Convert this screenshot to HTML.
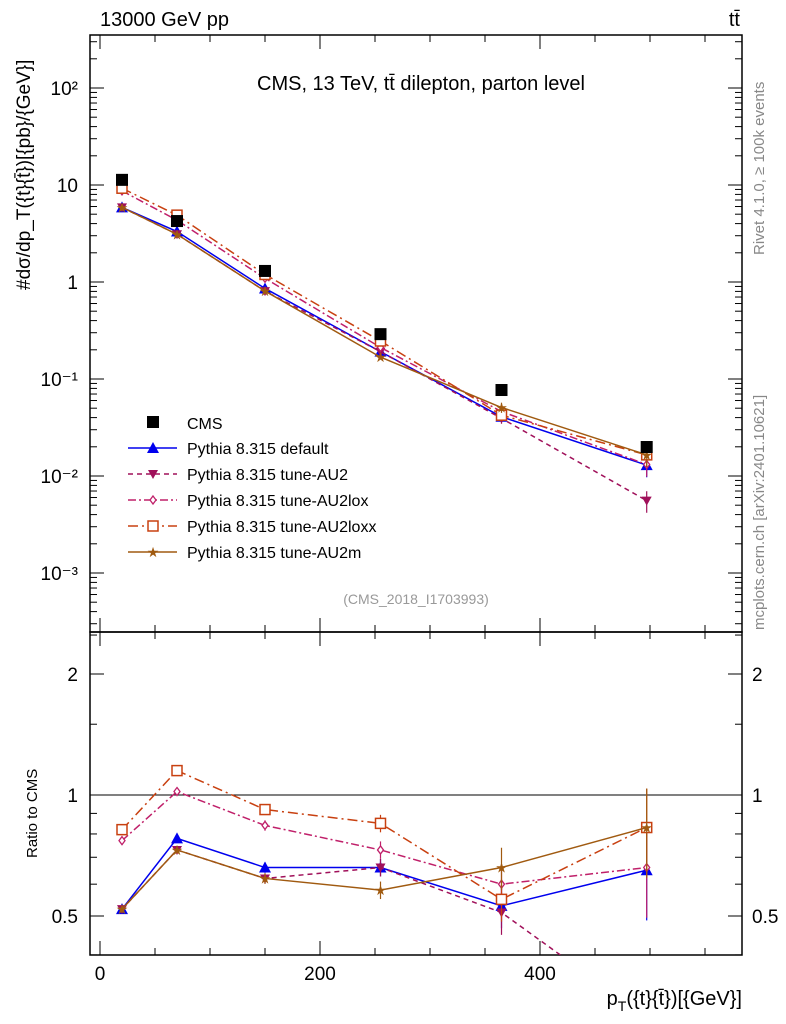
<!DOCTYPE html>
<html><head><meta charset="utf-8"><style>
body{margin:0;background:#fff}
svg{display:block;font-family:"Liberation Sans",sans-serif}
</style></head><body>
<svg id="c" width="786" height="1024" viewBox="0 0 786 1024"></svg>
<script>
const xVals=[20,70,150,255,365,497];
const cmsVals=[11.3,4.25,1.30,0.29,0.077,0.0199];
const cmsErr=[0.06,0.06,0.06,0.07,0.08,0.10];
const seriesNames=["Pythia 8.315 default","Pythia 8.315 tune-AU2","Pythia 8.315 tune-AU2lox","Pythia 8.315 tune-AU2loxx","Pythia 8.315 tune-AU2m"];
const ratioDefault=[0.52,0.78,0.66,0.66,0.53,0.65];
const ratioAU2=[0.52,0.73,0.62,0.66,0.51,0.28];
const ratioAU2lox=[0.77,1.02,0.84,0.73,0.60,0.66];
const ratioAU2loxx=[0.82,1.15,0.92,0.85,0.55,0.83];
const ratioAU2m=[0.52,0.73,0.62,0.58,0.66,0.83];
const relErr=[0.02,0.02,0.03,0.05,0.12,0.25];
const xTicks=[0,200,400];
const logTickLabels=["10⁻³","10⁻²","10⁻¹","1","10","10²"];
const ratioTicks=[0.5,1,2];

const svg=document.getElementById('c');const NS='http://www.w3.org/2000/svg';
function mk(t,a,p){const e=document.createElementNS(NS,t);for(const k in a)e.setAttribute(k,a[k]);(p||svg).appendChild(e);return e;}
const L=90,R=742,T=35,B=632,RT=632,RB=955;
const xs=v=>100+v*1.1;
const ys=v=>282-Math.log10(v)*97;
const rs=v=>795-Math.log2(v)*121;
let f=mk('rect',{x:L,y:T,width:R-L,height:B-T,fill:'none',stroke:'#000','stroke-width':1.5});

f=mk('rect',{x:L,y:RT,width:R-L,height:RB-RT,fill:'none',stroke:'#000','stroke-width':1.5});

for(let v=0;v<=580;v+=50){const maj=v%200==0;const l=maj?14:7;const x=xs(v);
 mk('line',{x1:x,y1:B,x2:x,y2:B-l,stroke:'#000'});mk('line',{x1:x,y1:T,x2:x,y2:T+l,stroke:'#000'});
 mk('line',{x1:x,y1:RB,x2:x,y2:RB-l,stroke:'#000'});mk('line',{x1:x,y1:RT,x2:x,y2:RT+l,stroke:'#000'});}
xTicks.forEach(v=>{const t=mk('text',{x:xs(v),y:980,'font-size':19,'text-anchor':'middle'});t.textContent=v;
 });
for(let d=-4;d<=2;d++)for(let m=1;m<10;m++){const v=m*Math.pow(10,d);const y=ys(v);if(y<T||y>B)continue;const l=m==1?14:7;
 mk('line',{x1:L,y1:y,x2:L+l,y2:y,stroke:'#000'});mk('line',{x1:R,y1:y,x2:R-l,y2:y,stroke:'#000'});}
logTickLabels.forEach((s,i)=>{const t=mk('text',{x:78,y:ys(Math.pow(10,i-3))+7,'font-size':19,'text-anchor':'end'});t.textContent=s;
 });
[0.4,0.5,0.6,0.7,0.8,0.9,1,1.5,2,2.5].forEach(v=>{const y=rs(v);if(y<RT||y>RB)return;const l=ratioTicks.includes(v)?14:7;
 mk('line',{x1:L,y1:y,x2:L+l,y2:y,stroke:'#000'});mk('line',{x1:R,y1:y,x2:R-l,y2:y,stroke:'#000'});});
ratioTicks.forEach(v=>{let t=mk('text',{x:78,y:rs(v)+7,'font-size':19,'text-anchor':'end'});t.textContent=v;
 
 t=mk('text',{x:752,y:rs(v)+7,'font-size':19});t.textContent=v;
 });
mk('line',{x1:L,y1:rs(1),x2:R,y2:rs(1),stroke:'#000'});
const defs=mk('defs',{});const c1=mk('clipPath',{id:'cm'},defs);mk('rect',{x:L,y:T,width:R-L,height:B-T},c1);
const c2=mk('clipPath',{id:'cr'},defs);mk('rect',{x:L,y:RT,width:R-L,height:RB-RT},c2);
const gm=mk('g',{'clip-path':'url(#cm)'});const gr=mk('g',{'clip-path':'url(#cr)'});
const styles=[
 {c:'#0000ee',d:'',m:'tri',r:ratioDefault},
 {c:'#a0105a',d:'5,4',m:'tridown',r:ratioAU2},
 {c:'#c0206a',d:'8,3,2,3',m:'diamond',r:ratioAU2lox},
 {c:'#c84010',d:'10,4,2,4',m:'square',r:ratioAU2loxx},
 {c:'#a05a10',d:'',m:'star',r:ratioAU2m}];
function marker(g,m,x,y,c){let e;
 if(m=='tri')e=mk('polygon',{points:`${x-6},${y+5} ${x+6},${y+5} ${x},${y-6}`,fill:c},g);
 else if(m=='tridown')e=mk('polygon',{points:`${x-5},${y-4} ${x+5},${y-4} ${x},${y+5}`,fill:c},g);
 else if(m=='diamond')e=mk('polygon',{points:`${x},${y-4} ${x+3},${y} ${x},${y+4} ${x-3},${y}`,fill:'#fff',stroke:c,'stroke-width':1.3},g);
 else if(m=='square')e=mk('rect',{x:x-5,y:y-5,width:10,height:10,fill:'#fff',stroke:c,'stroke-width':1.5},g);
 else if(m=='star')e=mk('text',{x:x,y:y+5,'font-size':14,'text-anchor':'middle',fill:c},g),e.textContent='★';
 else if(m=='sq')e=mk('rect',{x:x-6,y:y-6,width:12,height:12,fill:c},g);
 return e;}
styles.forEach((s,k)=>{
 const main=xVals.map((x,i)=>[xs(x),ys(cmsVals[i]*s.r[i])]);
 const rat=xVals.map((x,i)=>[xs(x),rs(s.r[i])]);
 [[gm,main,ys,i=>cmsVals[i]*s.r[i]],[gr,rat,rs,i=>s.r[i]]].forEach(([g,pts,sc,val],pi)=>{
  const p=mk('polyline',{points:pts.map(q=>q.join(',')).join(' '),fill:'none',stroke:s.c,'stroke-width':1.5,'stroke-dasharray':s.d},g);
  
  pts.forEach((q,i)=>{const v=val(i),e=relErr[i];
   mk('line',{x1:q[0],y1:sc(v*(1+e)),x2:q[0],y2:sc(v*(1-e)),stroke:s.c,'stroke-width':1.2},g);
   const mm=marker(g,s.m,q[0],q[1],s.c);});
 });
});
xVals.forEach((x,i)=>{const y=ys(cmsVals[i]);
 mk('line',{x1:xs(x),y1:ys(cmsVals[i]*(1+cmsErr[i])),x2:xs(x),y2:ys(cmsVals[i]*(1-cmsErr[i])),stroke:'#000'},gm);
 const m=marker(gm,'sq',xs(x),y,'#000');});
const lg=mk('g',{});
marker(lg,'sq',153,422,'#000');let t=mk('text',{x:187,y:429,'font-size':16},lg);t.textContent='CMS';
styles.forEach((s,k)=>{const y=448+k*26;
 mk('line',{x1:128,y1:y,x2:177,y2:y,stroke:s.c,'stroke-width':1.5,'stroke-dasharray':s.d},lg);
 marker(lg,s.m,153,y,s.c);const tt=mk('text',{x:187,y:y+6,'font-size':16},lg);tt.textContent=seriesNames[k];
 });
function txt(s,a,n){const e=mk('text',a);e.textContent=s;return e;}
txt('13000 GeV pp',{x:100,y:26,'font-size':20},'header-left');
txt('tt̄',{x:740,y:26,'font-size':20,'text-anchor':'end'},'header-right');
txt('CMS, 13 TeV, tt̄ dilepton, parton level',{x:421,y:90,'font-size':20,'text-anchor':'middle'},'plot-title');
txt('(CMS_2018_I1703993)',{x:416,y:604,'font-size':14,'text-anchor':'middle',fill:'#999'},'analysis-id');
txt('Rivet 4.1.0, ≥ 100k events',{x:0,y:0,'font-size':15,fill:'#888',transform:'translate(764,255) rotate(-90)'},'rivet-label');
txt('mcplots.cern.ch [arXiv:2401.10621]',{x:0,y:0,'font-size':15,fill:'#888',transform:'translate(764,630) rotate(-90)'},'mcplots-label');
txt('#dσ/dp_T({t}{t̄})[{pb}/{GeV}]',{x:0,y:0,'font-size':19,transform:'translate(30,290) rotate(-90)'},'y-axis-title');
txt('Ratio to CMS',{x:0,y:0,'font-size':15,transform:'translate(37,858) rotate(-90)'},'ratio-axis-title');
const xt=txt('',{x:742,y:1005,'font-size':20,'text-anchor':'end'},'x-axis-title');
xt.innerHTML='p<tspan dy="6" font-size="14">T</tspan><tspan dy="-6">({t}{t̄})[{GeV}]</tspan>';
</script>
</body></html>
